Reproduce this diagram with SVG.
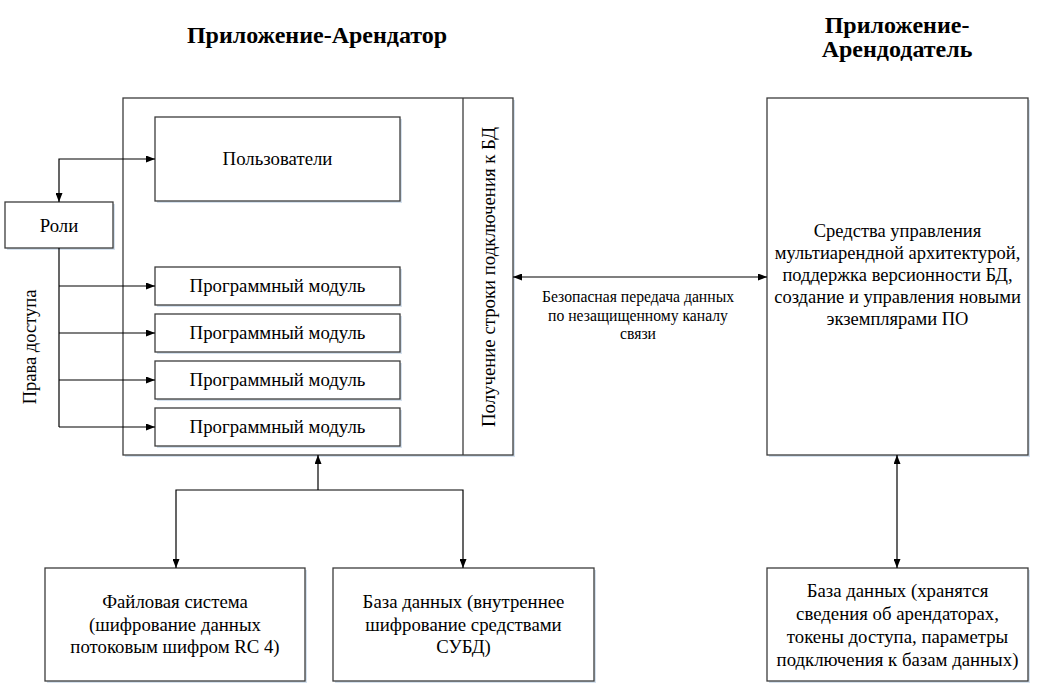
<svg xmlns="http://www.w3.org/2000/svg" width="1037" height="690" viewBox="0 0 1037 690">
<style>
.box{fill:#fff;stroke:#3c3c3c;stroke-width:1.3}
.sh{fill:#d5e1ee}
.t{font-family:'Liberation Serif','Times New Roman',serif;font-size:18.8px;fill:#000;text-anchor:middle}
.r{font-size:18.5px}
.s{font-size:15.7px}
.h{font-family:'Liberation Serif','Times New Roman',serif;font-size:24px;font-weight:bold;fill:#000;text-anchor:middle}
.c{fill:none;stroke:#000;stroke-width:1.2}
</style>
<defs>
<marker id="a" viewBox="0 0 10 10" refX="10" refY="5" markerWidth="9" markerHeight="7" markerUnits="userSpaceOnUse" orient="auto-start-reverse" preserveAspectRatio="none">
<path d="M0,0 L10,5 L0,10 Z" fill="#000"/>
</marker>
</defs>
<rect width="1037" height="690" fill="#fff"/>
<text class="h" x="317" y="43">Приложение-Арендатор</text>
<text class="h" x="897" y="33">Приложение-</text>
<text class="h" x="897" y="57">Арендодатель</text>

<g id="tenant">
<rect class="sh" x="125" y="100" width="390" height="357"/>
<rect class="box" x="123" y="98" width="390" height="357"/>
<line x1="463" y1="98" x2="463" y2="455" stroke="#3c3c3c" stroke-width="1.3"/>
<text class="t" transform="translate(495,277) rotate(-90)">Получение строки подключения к БД</text>
</g>
<g id="users">
<rect class="sh" x="157" y="119" width="245" height="84"/>
<rect class="box" x="155" y="117" width="245" height="84"/>
<text class="t" x="277.5" y="165">Пользователи</text>
</g>
<g id="roles">
<rect class="sh" x="7" y="204" width="108" height="46"/>
<rect class="box" x="5" y="202" width="108" height="46"/>
<text class="t" x="59" y="231.5">Роли</text>
</g>
<g id="mod1">
<rect class="sh" x="157" y="269" width="245" height="38"/>
<rect class="box" x="155" y="267" width="245" height="38"/>
<text class="t" x="277.5" y="292">Программный модуль</text>
</g>
<g id="mod2">
<rect class="sh" x="157" y="316" width="245" height="38"/>
<rect class="box" x="155" y="314" width="245" height="38"/>
<text class="t" x="277.5" y="339">Программный модуль</text>
</g>
<g id="mod3">
<rect class="sh" x="157" y="363" width="245" height="38"/>
<rect class="box" x="155" y="361" width="245" height="38"/>
<text class="t" x="277.5" y="386">Программный модуль</text>
</g>
<g id="mod4">
<rect class="sh" x="157" y="410" width="245" height="38"/>
<rect class="box" x="155" y="408" width="245" height="38"/>
<text class="t" x="277.5" y="433">Программный модуль</text>
</g>
<g id="landlord">
<rect class="sh" x="769" y="100" width="261" height="357"/>
<rect class="box" x="767" y="98" width="261" height="357"/>
<text class="t r" x="897.5" y="237">Средства управления</text>
<text class="t r" x="897.5" y="259">мультиарендной архитектурой,</text>
<text class="t r" x="897.5" y="281">поддержка версионности БД,</text>
<text class="t r" x="897.5" y="303">создание и управления новыми</text>
<text class="t r" x="897.5" y="325">экземплярами ПО</text>
</g>
<g id="fs">
<rect class="sh" x="47" y="570" width="260" height="113"/>
<rect class="box" x="45" y="568" width="260" height="113"/>
<text class="t" x="175" y="608">Файловая система</text>
<text class="t" x="175" y="630.5">(шифрование данных</text>
<text class="t" x="175" y="653">потоковым шифром RC 4)</text>
</g>
<g id="db1">
<rect class="sh" x="335" y="570" width="261" height="113"/>
<rect class="box" x="333" y="568" width="261" height="113"/>
<text class="t" x="463.5" y="608">База данных (внутреннее</text>
<text class="t" x="463.5" y="630.5">шифрование средствами</text>
<text class="t" x="463.5" y="653">СУБД)</text>
</g>
<g id="db2">
<rect class="sh" x="769" y="570" width="261" height="113"/>
<rect class="box" x="767" y="568" width="261" height="113"/>
<text class="t" x="897.5" y="597">База данных (хранятся</text>
<text class="t" x="897.5" y="620">сведения об арендаторах,</text>
<text class="t" x="897.5" y="643">токены доступа, параметры</text>
<text class="t" x="897.5" y="666">подключения к базам данных)</text>
</g>

<g id="connectors">
<path class="c" d="M59,202 V159 H155" marker-start="url(#a)" marker-end="url(#a)"/>
<path class="c" d="M59,248 V427"/>
<path class="c" d="M59,286 H155" marker-end="url(#a)"/>
<path class="c" d="M59,333 H155" marker-end="url(#a)"/>
<path class="c" d="M59,380 H155" marker-end="url(#a)"/>
<path class="c" d="M59,427 H155" marker-end="url(#a)"/>
<path class="c" d="M513,277 H767" marker-start="url(#a)" marker-end="url(#a)"/>
<path class="c" d="M318,490 V455" marker-end="url(#a)"/>
<path class="c" d="M176,568 V490 H463 V568" marker-start="url(#a)" marker-end="url(#a)"/>
<path class="c" d="M897,455 V568" marker-start="url(#a)" marker-end="url(#a)"/>
<text class="t r" transform="translate(36,347) rotate(-90)">Права доступа</text>
<text class="t s" x="638" y="302">Безопасная передача данных</text>
<text class="t s" x="638" y="321">по незащищенному каналу</text>
<text class="t s" x="638" y="339">связи</text>
</g>
</svg>
